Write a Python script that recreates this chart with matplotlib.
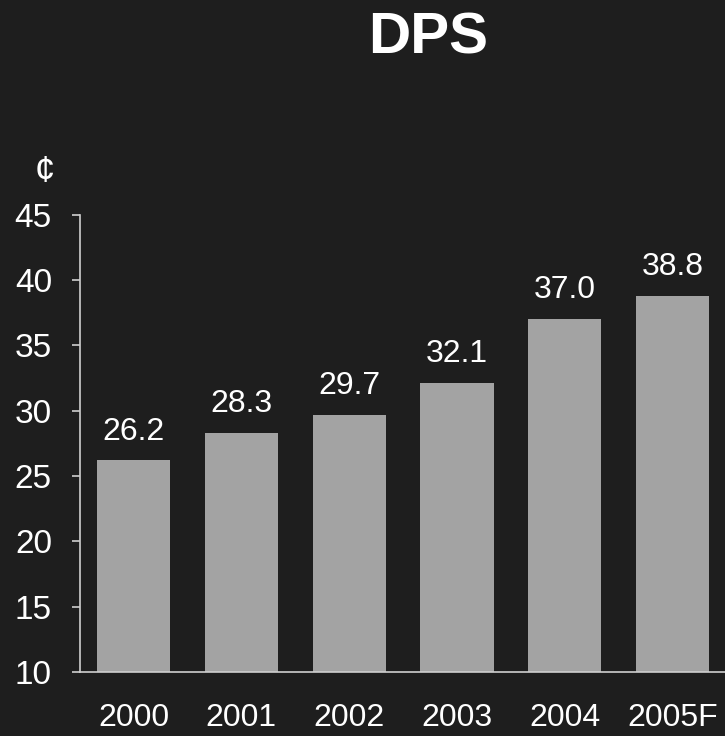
import numpy as np
import matplotlib.pyplot as plt

plt.rcParams['font.family'] = ['Liberation Sans', 'DejaVu Sans']

years = ["2000", "2001", "2002", "2003", "2004", "2005F"]
dps = [26.2, 28.3, 29.7, 32.1, 37.0, 38.8]
yticks = [10, 15, 20, 25, 30, 35, 40, 45]

bg = '#1e1e1e'
fg = 'white'

fig = plt.figure(figsize=(7.25, 7.36), dpi=100, facecolor=bg)
ax = fig.add_axes([0.110, 0.087, 0.892, 0.621], facecolor=bg)

x = np.arange(len(years))
bars = ax.bar(x, dps, width=0.68, bottom=0, color='#a3a3a3', zorder=2)

for xi, v in zip(x, dps):
    ax.annotate(f"{v:.1f}", (xi, v), xytext=(0, 10), textcoords='offset points',
                ha='center', va='bottom', color=fg, fontsize=23)

ax.set_xlim(-0.5, 5.5)
ax.set_ylim(10, 45)
ax.set_yticks(yticks)
ax.set_xticks(x)
ax.set_xticklabels(years)

for s in ['top', 'right']:
    ax.spines[s].set_visible(False)
for s in ['left', 'bottom']:
    ax.spines[s].set_color('#cfcfcf')
    ax.spines[s].set_linewidth(1.2)

ax.tick_params(axis='y', colors='#cfcfcf', labelcolor=fg, labelsize=24,
               length=6, width=1.2, direction='out', pad=14)
ax.tick_params(axis='x', colors='#cfcfcf', labelcolor=fg, labelsize=23,
               length=0, pad=22)

fig.text(0.590, 0.948, "DPS", ha='center', va='center', color=fg,
         fontsize=42, fontweight='bold')
fig.text(0.062, 0.765, "¢", ha='center', va='center', color=fg, fontsize=26)

fig.savefig('out.png', dpi=100, facecolor=bg)
